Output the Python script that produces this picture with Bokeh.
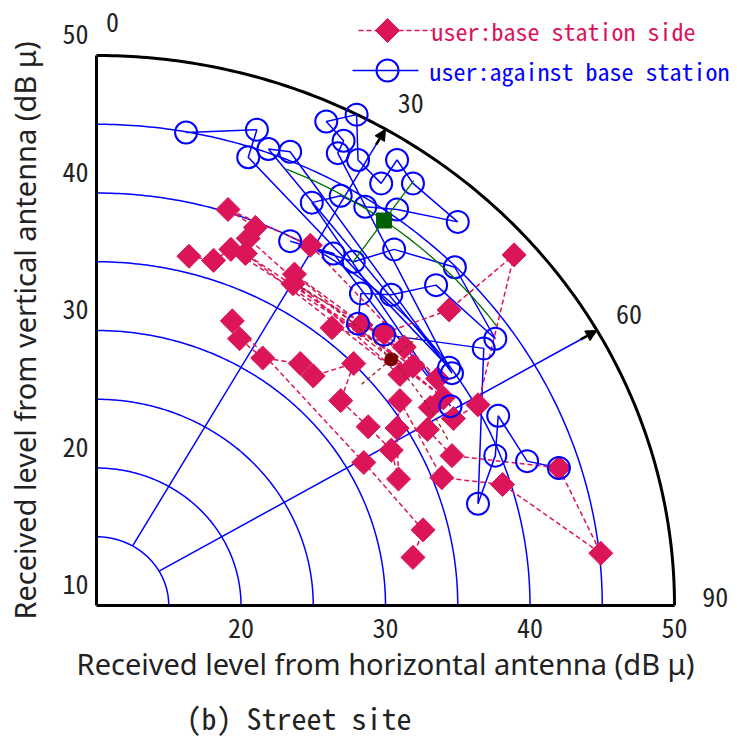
import numpy as np
from bokeh.plotting import figure
from bokeh.models import Range1d, FixedTicker, Arrow, NormalHead
from bokeh.core.properties import value
from bokeh.embed import file_html
from bokeh.resources import INLINE

# ---------------- data (dBμ), in measurement order ----------------
# user: base station side  (red diamonds, dashed)
base_x = [16.4, 18.1, 19.3, 31.9, 20.3, 31.0, 20.5, 21.0, 19.1, 24.8,
          33.6, 23.7, 34.0, 23.6, 31.3, 26.3, 28.3, 29.9, 34.4, 38.9,
          36.4, 34.7, 33.1, 32.9, 34.6, 42.0, 44.9, 38.1, 33.9, 31.0,
          30.8, 30.9, 30.4, 28.8, 26.9, 27.8, 25.0, 24.1, 21.5, 19.9,
          19.4, 28.5, 32.6, 31.9]
base_y = [33.9, 33.6, 34.4, 25.9, 34.1, 25.3, 35.2, 36.0, 37.3, 34.7,
          25.0, 32.6, 23.6, 31.9, 27.3, 28.7, 28.9, 28.3, 30.0, 34.0,
          23.1, 22.1, 22.9, 21.3, 19.4, 18.5, 12.3, 17.3, 17.8, 23.4,
          21.4, 17.7, 19.8, 21.5, 23.4, 26.1, 25.2, 26.1, 26.5, 27.9,
          29.2, 18.9, 14.0, 12.0]
# user: against base station  (blue open circles, solid)
against_x = [16.2, 21.1, 20.5, 34.4, 21.9, 23.4, 34.6, 26.7, 27.1, 25.9,
             28.0, 28.1, 29.7, 30.8, 31.9, 35.0, 30.8, 28.6, 26.9, 24.9,
             34.5, 26.4, 23.4, 27.8, 30.6, 34.8, 37.6, 33.5, 30.4, 28.3,
             28.1, 29.9, 36.8, 36.4, 37.6, 37.8, 39.8, 42.0]
against_y = [42.9, 43.1, 41.1, 25.8, 41.7, 41.5, 25.4, 41.4, 42.3, 43.7,
             44.2, 40.9, 39.2, 40.9, 39.2, 36.4, 37.3, 37.5, 38.3, 37.8,
             23.0, 34.1, 35.0, 33.5, 34.4, 33.1, 27.9, 31.8, 31.1, 31.2,
             29.0, 28.2, 27.2, 15.9, 19.4, 22.3, 19.0, 18.5]

# mean points and their spread (radius span, angle span in degrees)
base_mean = [30.4, 26.4]
base_r_span = [24.4, 29.6]
base_deg_span = [31.5, 64.0]
against_mean = [29.9, 36.5]
against_r_span = [30.6, 37.9]
against_deg_span = [22.5, 53.7]

# polar grid
center = [10.0, 8.5]
grid_radii = [5, 10, 15, 20, 25, 30, 35]
outer_radius = 40
spoke_deg = [30, 60]
angle_labels = ["0", "30", "60", "90"]
angle_deg = [0, 30, 60, 90]
x_ticks = [20, 30, 40, 50]
y_ticks = [10, 20, 30, 40, 50]

x_title = "Received level from horizontal antenna (dB μ)"
y_title = "Received level from vertical antenna (dB μ)"
caption = "(b) Street site"

# ---------------- styling / layout ----------------
BLUE = "#0000FF"
RED = "#DC145A"
GREEN = "#007000"
MAROON = "#7A0000"
TXT = "#222222"
MONO = "Noto Sans Mono CJK JP"
SANS = "Noto Sans"

W, H = 737, 740
ORIGIN_PX = (96, 605)      # pixel of the polar centre
SX, SY = 14.45, 13.75      # px per dB
x0, y0 = center


def px_x(px):
    return x0 + (px - ORIGIN_PX[0]) / SX


def px_y(py):
    return y0 + (ORIGIN_PX[1] - py) / SY


def polar(r, deg):
    t = np.radians(np.asarray(deg, dtype=float))
    return center[0] + r * np.sin(t), center[1] + r * np.cos(t)


# the frame covers the whole canvas; the axes sit at the polar centre
p = figure(width=W, height=H,
           x_range=Range1d(px_x(0), px_x(W)), y_range=Range1d(px_y(H), px_y(0)),
           output_backend="svg", toolbar_location=None, title=None,
           min_border_left=0, min_border_right=0, min_border_top=0, min_border_bottom=0)
p.xgrid.visible = False
p.ygrid.visible = False
p.outline_line_color = None
p.background_fill_color = "white"
p.border_fill_color = "white"

xa, ya = p.xaxis[0], p.yaxis[0]
xa.fixed_location = y0
ya.fixed_location = x0
xa.bounds = (x0, x0 + outer_radius)
ya.bounds = (y0, y0 + outer_radius)
for ax in (xa, ya):
    ax.axis_line_color = "black"
    ax.axis_line_width = 3
    ax.major_tick_line_color = None
    ax.minor_tick_line_color = None
    ax.major_tick_out = 0
    ax.major_tick_in = 0
    ax.major_label_text_font = MONO
    ax.major_label_text_font_size = "26px"
    ax.major_label_text_color = TXT
    ax.axis_label_text_font = SANS
    ax.axis_label_text_font_size = "29px"
    ax.axis_label_text_font_style = "normal"
    ax.axis_label_text_color = TXT
xa.ticker = FixedTicker(ticks=x_ticks)
ya.ticker = FixedTicker(ticks=y_ticks)
xa.major_label_standoff = 13
xa.axis_label_standoff = 3
ya.major_label_standoff = 8
ya.axis_label_standoff = 15
xa.axis_label = x_title
ya.axis_label = y_title

# ---- polar grid ----
theta = np.linspace(0, 90, 181)
arc_xs, arc_ys = [], []
for r in grid_radii:
    ax_, ay_ = polar(r, theta)
    arc_xs.append(list(ax_))
    arc_ys.append(list(ay_))
p.multi_line(arc_xs, arc_ys, line_color=BLUE, line_width=1.5)

sp_x0, sp_y0 = polar(grid_radii[0], spoke_deg)
sp_x1, sp_y1 = polar(outer_radius, spoke_deg)
p.segment(sp_x0, sp_y0, sp_x1, sp_y1, line_color=BLUE, line_width=1.5)

ox, oy = polar(outer_radius, theta)
p.line(ox, oy, line_color="black", line_width=3)

ah_x0, ah_y0 = polar(outer_radius - 1.3, spoke_deg)
for i in range(len(spoke_deg)):
    p.add_layout(Arrow(end=NormalHead(size=11, fill_color="black", line_color="black"),
                       x_start=ah_x0[i], y_start=ah_y0[i],
                       x_end=sp_x1[i], y_end=sp_y1[i],
                       line_color="black", line_width=2.5))

lab_x, lab_y = polar(42.4, angle_deg)
p.text(x=list(lab_x), y=list(lab_y), text=angle_labels,
       x_offset=[16, 8, 2, 6], y_offset=[0, 3, 0, -8],
       text_font=value(MONO), text_font_size="26px", text_color=TXT,
       text_align="center", text_baseline="middle")

# ---- data ----
p.line(against_x, against_y, line_color=BLUE, line_width=1.5)
p.line(base_x, base_y, line_color=RED, line_width=1.5, line_dash="5 3")
p.scatter(base_x, base_y, marker="square", size=17, angle=45, angle_units="deg",
          fill_color=RED, line_color=RED)
p.scatter(against_x, against_y, marker="circle", size=22, fill_color=None,
          line_color=BLUE, line_width=2)

# ---- mean crosses ----
def mean_cross(mean, r_span, deg_span, color, dash):
    dx, dy = mean[0] - center[0], mean[1] - center[1]
    rm = float(np.hypot(dx, dy))
    tm = float(np.degrees(np.arctan2(dx, dy)))
    t = np.linspace(deg_span[0], deg_span[1], 60)
    axx, ayy = polar(rm, t)
    p.line(axx, ayy, line_color=color, line_width=1.3, line_dash=dash)
    rx, ry = polar(np.array(r_span), [tm, tm])
    p.line(rx, ry, line_color=color, line_width=1.3, line_dash=dash)


mean_cross(against_mean, against_r_span, against_deg_span, GREEN, "solid")
mean_cross(base_mean, base_r_span, base_deg_span, "#8B2A1A", "4 3")
p.scatter([against_mean[0]], [against_mean[1]], marker="square", size=15,
          fill_color="#006000", line_color="#006000")
p.scatter([base_mean[0]], [base_mean[1]], marker="circle", size=13,
          fill_color=MAROON, line_color=MAROON)

# ---- legend (drawn) ----
ly1, ly2 = px_y(30), px_y(70)
p.line([px_x(358), px_x(432)], [ly1, ly1], line_color=RED, line_width=1.5, line_dash="5 3")
p.scatter([px_x(387)], [ly1], marker="square", size=17, angle=45, angle_units="deg",
          fill_color=RED, line_color=RED)
p.text([px_x(431)], [ly1], text=["user:base station side"], text_font=value(MONO),
       text_font_size="24px", text_color=RED, text_baseline="middle", text_align="left")
p.line([px_x(352), px_x(418)], [ly2, ly2], line_color=BLUE, line_width=1.5)
p.scatter([px_x(387)], [ly2], marker="circle", size=22, fill_color=None,
          line_color=BLUE, line_width=2)
p.text([px_x(429)], [ly2], text=["user:against base station"], text_font=value(MONO),
       text_font_size="24px", text_color=BLUE, text_baseline="middle", text_align="left")

# ---- caption ----
p.text([px_x(186)], [px_y(716)], text=[caption], text_font=value(MONO),
       text_font_size="30px", text_color=TXT, text_baseline="middle", text_align="left")

open("out.html", "w").write(file_html(p, INLINE))
